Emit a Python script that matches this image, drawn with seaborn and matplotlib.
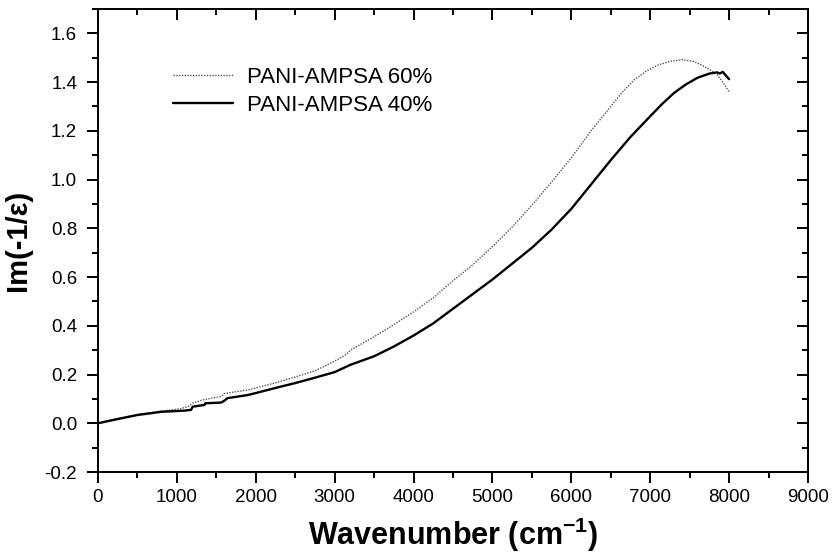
import matplotlib
matplotlib.use("Agg")
import matplotlib.pyplot as plt
import seaborn as sns
import pandas as pd
from matplotlib.ticker import MultipleLocator

# ---- data ----
wn_40 = [0, 200, 500, 800, 1100, 1180, 1200, 1300, 1350, 1360, 1560, 1600, 1640,
         1900, 2000, 2250, 2500, 2750, 3000, 3120, 3200, 3500, 3750, 4000, 4250,
         4500, 4750, 5000, 5250, 5500, 5750, 6000, 6250, 6500, 6750, 7000, 7150,
         7300, 7450, 7600, 7750, 7850, 7880, 7920, 7950, 8000]
im_40 = [0.0, 0.014, 0.034, 0.047, 0.052, 0.055, 0.068, 0.073, 0.075, 0.082, 0.085,
         0.092, 0.103, 0.116, 0.124, 0.145, 0.165, 0.187, 0.21, 0.228, 0.24, 0.275,
         0.315, 0.36, 0.41, 0.47, 0.53, 0.59, 0.655, 0.72, 0.795, 0.88, 0.98, 1.08,
         1.175, 1.26, 1.31, 1.355, 1.39, 1.418, 1.435, 1.44, 1.435, 1.442, 1.43,
         1.412]

wn_60 = [0, 200, 500, 800, 1050, 1150, 1200, 1330, 1560, 1600, 1900, 2000, 2250,
         2500, 2750, 3000, 3150, 3200, 3500, 3750, 4000, 4250, 4500, 4750, 5000,
         5250, 5500, 5750, 6000, 6250, 6500, 6650, 6800, 6950, 7100, 7250, 7400,
         7550, 7650, 7750, 7850, 7920, 8000]
im_60 = [0.0, 0.016, 0.036, 0.05, 0.06, 0.07, 0.083, 0.096, 0.11, 0.122, 0.137,
         0.145, 0.166, 0.19, 0.215, 0.255, 0.283, 0.30, 0.355, 0.405, 0.457, 0.515,
         0.585, 0.65, 0.725, 0.805, 0.895, 0.99, 1.09, 1.2, 1.3, 1.36, 1.41, 1.445,
         1.47, 1.485, 1.492, 1.485, 1.47, 1.452, 1.43, 1.40, 1.36]

label_60 = "PANI-AMPSA 60%"
label_40 = "PANI-AMPSA 40%"

x_ticks = [0, 1000, 2000, 3000, 4000, 5000, 6000, 7000, 8000, 9000]
y_ticks = [-0.2, 0.0, 0.2, 0.4, 0.6, 0.8, 1.0, 1.2, 1.4, 1.6]

sns.set_style("ticks")
plt.rcParams['font.family'] = ['Liberation Sans', 'DejaVu Sans']
plt.rcParams['mathtext.fontset'] = 'custom'
plt.rcParams['mathtext.rm'] = 'Liberation Sans'
plt.rcParams['mathtext.bf'] = 'Liberation Sans:bold'
for k in ['text.color', 'axes.labelcolor', 'xtick.color', 'ytick.color']:
    plt.rcParams[k] = 'black'

fig = plt.figure(figsize=(8.33, 5.55), dpi=100)
ax = fig.add_axes([0.1176, 0.1495, 0.8524, 0.8343])

df60 = pd.DataFrame({"x": wn_60, "y": im_60})
df40 = pd.DataFrame({"x": wn_40, "y": im_40})
sns.lineplot(data=df60, x="x", y="y", ax=ax, color="#555555", lw=1.0,
             linestyle=(0, (1, 1)), label=label_60, sort=False)
sns.lineplot(data=df40, x="x", y="y", ax=ax, color="black", lw=1.7,
             label=label_40, sort=False)

ax.set_xlim(0, 9000)
ax.set_ylim(-0.2, 1.7)
ax.set_xticks(x_ticks)
ax.set_yticks(y_ticks)
ax.set_xticklabels([str(t) for t in x_ticks])
ax.set_yticklabels([f"{t:.1f}" for t in y_ticks])
ax.xaxis.set_minor_locator(MultipleLocator(500))
ax.yaxis.set_minor_locator(MultipleLocator(0.1))

for s in ax.spines.values():
    s.set_linewidth(1.4)
    s.set_color("black")
    s.set_visible(True)

ax.tick_params(axis="both", which="major", direction="out", length=8, width=1.4,
               labelsize=13.5, colors="black")
ax.tick_params(axis="x", which="major", pad=4)
ax.tick_params(axis="y", which="major", pad=7)
ax.tick_params(axis="both", which="minor", direction="out", length=4, width=1.4)
ax.tick_params(axis="both", which="both", top=True, right=True)
# top and right ticks point inward
for t in ax.xaxis.get_major_ticks() + ax.xaxis.get_minor_ticks():
    t.tick2line.set_marker(matplotlib.lines.TICKDOWN)
for t in ax.yaxis.get_major_ticks() + ax.yaxis.get_minor_ticks():
    t.tick2line.set_marker(matplotlib.lines.TICKLEFT)

ax.set_xlabel(r"Wavenumber (cm$^{\mathbf{-1}}$)", fontsize=22, fontweight="bold",
              labelpad=7)
ax.set_ylabel("Im(-1/ε)", fontsize=21, fontweight="bold", labelpad=9)

leg = ax.legend(loc="upper left", bbox_to_anchor=(0.1056, 0.8756), frameon=False,
                fontsize=16, handlelength=2.7, handletextpad=0.65,
                labelspacing=0.33, borderpad=0, borderaxespad=0)

fig.savefig("out.png", dpi=100)
